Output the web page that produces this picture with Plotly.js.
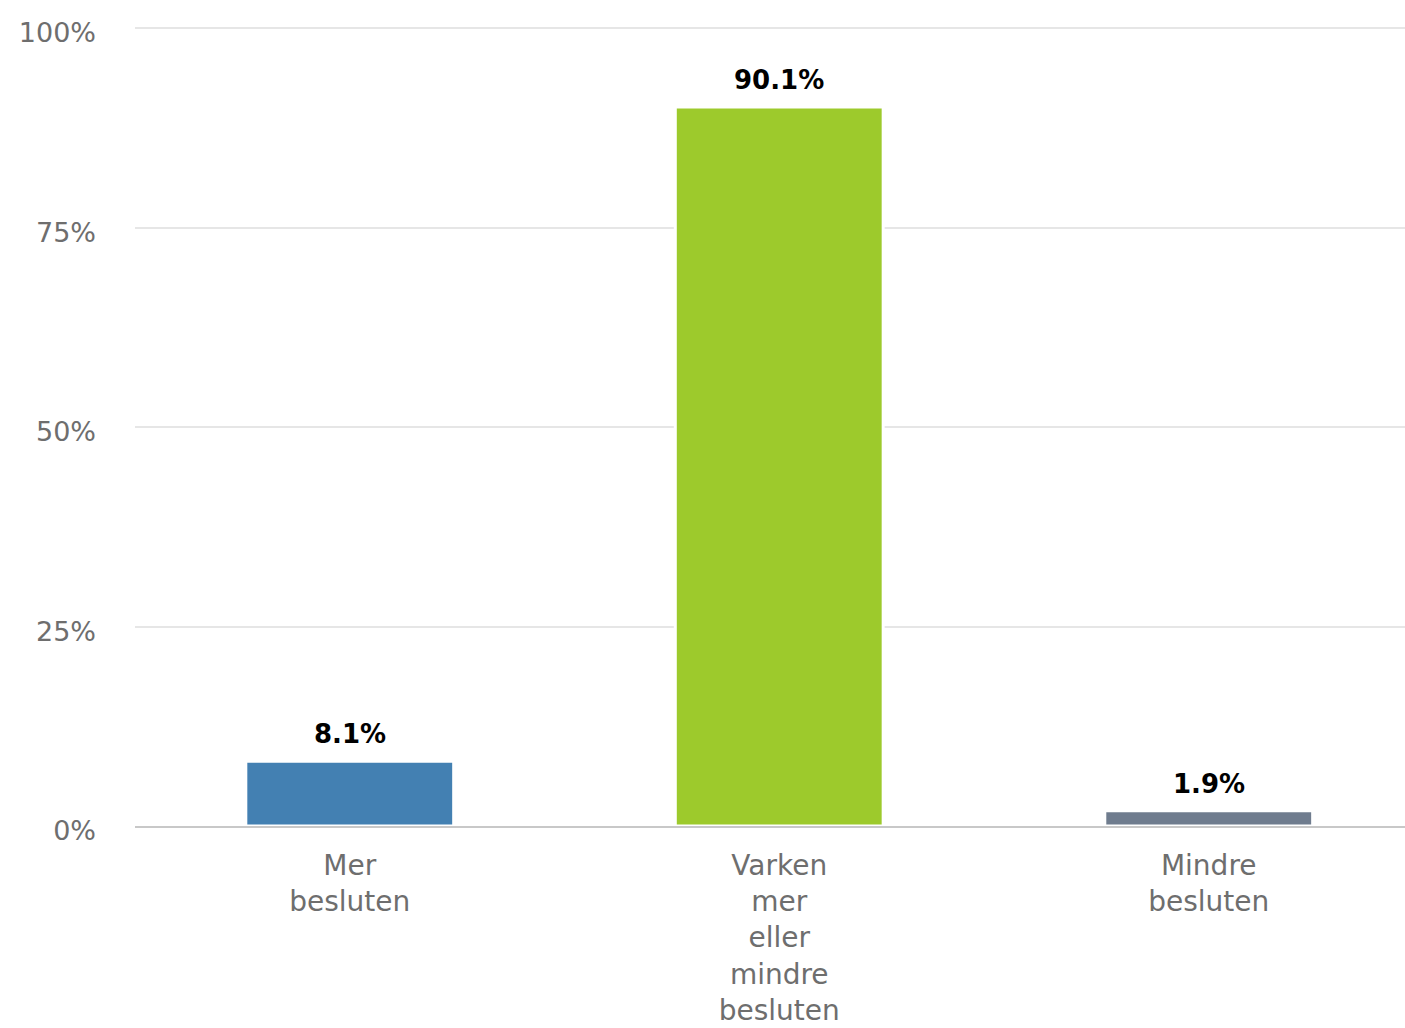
<!DOCTYPE html>
<html>
<head>
<meta charset="utf-8">
<script src="https://cdn.plot.ly/plotly-3.0.1.min.js"></script>
<style>html,body{margin:0;padding:0;background:#fff;overflow:hidden}</style>
</head>
<body>
<div id="chart" style="width:1405px;height:1028px"></div>
<script>
const categories = ["Mer<br>besluten", "Varken<br>mer<br>eller<br>mindre<br>besluten", "Mindre<br>besluten"];
const values = [8.1, 90.1, 1.9];
const labels = ["8.1%", "90.1%", "1.9%"];
const colors = ["#4380b2", "#9dca2c", "#6f7c8e"];
const yTicks = [0, 25, 50, 75, 100];
const yTickText = ["0%", "25%", "50%", "75%", "100%"];

const trace = {
  type: "bar",
  x: categories,
  y: values,
  width: 0.484,
  marker: {color: colors, line: {color: "#ffffff", width: 3}},
  hoverinfo: "none",
  cliponaxis: false
};

const annotations = categories.map((c, i) => ({
  x: c, y: values[i], text: labels[i], showarrow: false,
  yanchor: "bottom", yshift: 10,
  font: {family: "DejaVu Sans", size: 26, color: "#000", weight: "bold"}
}));

const layout = {
  width: 1405, height: 1028,
  margin: {l: 135, r: 0, t: 26, b: 202},
  paper_bgcolor: "#fff", plot_bgcolor: "#fff",
  showlegend: false,
  font: {family: "DejaVu Sans", color: "#6e6e6e"},
  xaxis: {
    type: "category",
    range: [-0.5, 2.457],
    showgrid: false,
    showline: true, linecolor: "#c8c8c8", linewidth: 2,
    ticks: "", ticklabelstandoff: 13,
    tickfont: {size: 28, color: "#6e6e6e"},
    fixedrange: true
  },
  yaxis: {
    range: [0, 100.25],
    tickvals: yTicks, ticktext: yTickText,
    showgrid: true, gridcolor: "#e6e6e6", gridwidth: 2,
    zeroline: false, showline: false,
    ticks: "", ticklabelstandoff: 38, ticklabelshift: 5,
    tickfont: {size: 27, color: "#6e6e6e"},
    fixedrange: true
  },
  annotations: annotations
};

Plotly.newPlot("chart", [trace], layout, {displayModeBar: false, staticPlot: true});
</script>
</body>
</html>
